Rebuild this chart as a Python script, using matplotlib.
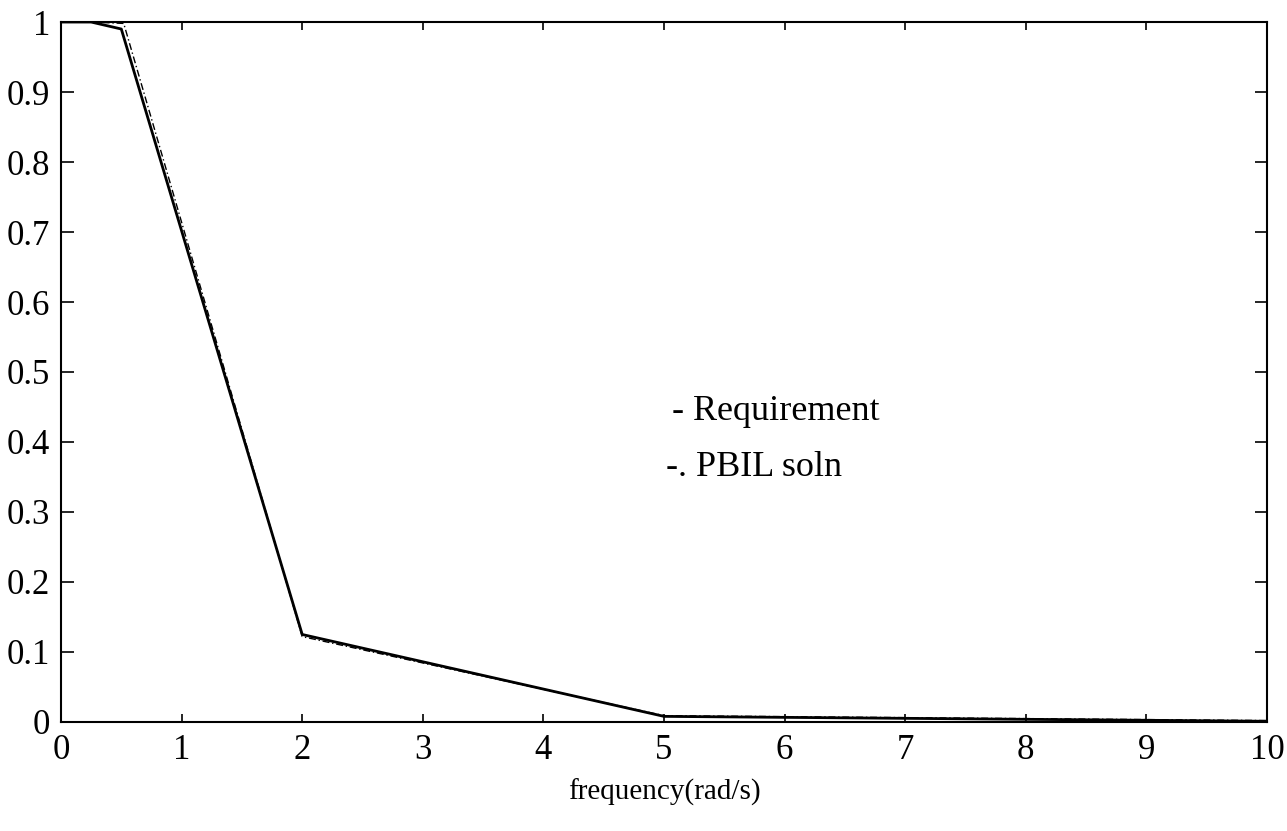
import matplotlib
matplotlib.use("Agg")
import matplotlib.pyplot as plt
import numpy as np

# Data
freq_req = [0, 0.25, 0.5, 2, 5, 10]
mag_req = [1.0, 1.0, 0.99, 0.125, 0.008, 0.001]
freq_pbil = [0, 0.25, 0.52, 2, 5, 10]
mag_pbil = [1.0, 1.0, 0.998, 0.122, 0.009, 0.002]
xticks = list(range(0, 11))
yticks = [0, 0.1, 0.2, 0.3, 0.4, 0.5, 0.6, 0.7, 0.8, 0.9, 1]
ytick_labels = ["0", "0.1", "0.2", "0.3", "0.4", "0.5", "0.6", "0.7", "0.8", "0.9", "1"]

plt.rcParams['font.family'] = ['Liberation Serif', 'DejaVu Serif']

fig = plt.figure(figsize=(12.87, 8.31), dpi=100)
ax = fig.add_axes([0.0474, 0.1312, 0.9371, 0.8423])

ax.plot(freq_req, mag_req, color='black', linewidth=2.0, linestyle='-')
ax.plot(freq_pbil, mag_pbil, color='black', linewidth=1.0, linestyle=(0, (5, 2, 1, 2)))

ax.set_xlim(0, 10)
ax.set_ylim(0, 1)
ax.set_xticks(xticks)
ax.set_yticks(yticks)
ax.set_yticklabels(ytick_labels)
ax.tick_params(direction='in', width=1.2, labelsize=25, top=True, right=True)
ax.tick_params(axis='y', length=9, pad=8)
ax.tick_params(axis='x', length=6, pad=9)
for s in ax.spines.values():
    s.set_linewidth(1.5)

ax.set_xlabel('frequency(rad/s)', fontsize=21, labelpad=8)

ax.text(0.507, 0.443, '- Requirement', transform=ax.transAxes, fontsize=26,
        va='center', ha='left')
ax.text(0.502, 0.363, '-. PBIL soln', transform=ax.transAxes, fontsize=26,
        va='center', ha='left')

fig.savefig('out.png', dpi=100)
